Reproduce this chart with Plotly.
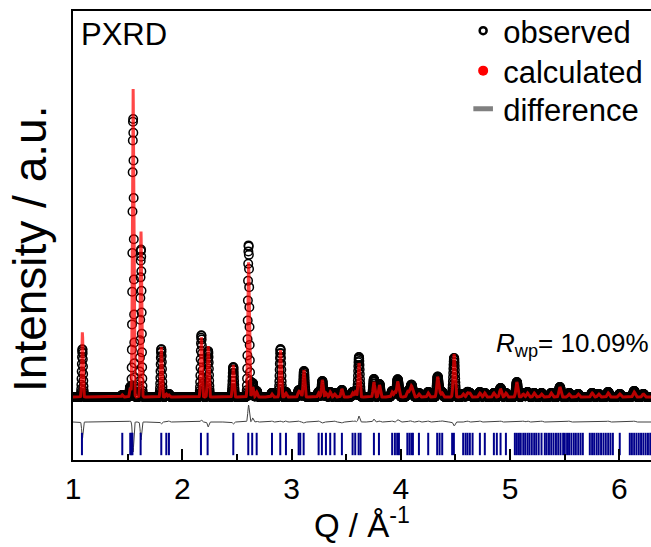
import numpy as np
import plotly.graph_objects as go

# Bragg peaks of the refined pattern: position (Q, 1/Å), observed and calculated heights (a.u.)
peak_q = [1.086, 1.451, 1.524, 1.550, 1.622, 1.808, 1.854, 1.878, 2.175, 2.237,
          2.467, 2.607, 2.645, 2.681, 2.821, 2.899, 2.949, 3.065, 3.080, 3.114,
          3.248, 3.282, 3.315, 3.354, 3.394, 3.461, 3.559, 3.583, 3.617, 3.754,
          3.805, 3.921, 3.946, 3.970, 3.983, 4.060, 4.079, 4.097, 4.111, 4.166,
          4.251, 4.337, 4.355, 4.379, 4.488, 4.571, 4.611, 4.632, 4.724, 4.769,
          4.852, 4.913, 4.962, 5.062, 5.121, 5.160, 5.221, 5.288, 5.377, 5.456,
          5.540, 5.624, 5.751, 5.811, 5.898, 6.004, 6.136, 6.220]
peak_obs = [48, 2, 10, 279, 148, 48, 3, 3, 62, 46,
            30, 152, 14, 6, 4, 48, 5, 6, 5, 26,
            5, 16, 4, 5, 4, 7, 5, 6, 40, 18,
            13, 6, 5, 16, 6, 5, 6, 11, 4, 4,
            5, 20, 6, 5, 39, 3, 5, 4, 5, 4,
            4, 9, 4, 15, 4, 5, 4, 4, 4, 10,
            4, 3, 4, 3, 5, 3, 6, 3]
peak_calc = [65, 2, 9, 309, 166, 50, 3, 2, 60, 51,
             32, 135, 10, 5, 3, 47, 4, 5, 5, 27,
             4, 17, 4, 5, 3, 8, 4, 5, 34, 15,
             12, 5, 5, 14, 5, 5, 5, 10, 4, 3,
             4, 20, 5, 4, 43, 3, 4, 4, 4, 4,
             4, 8, 4, 15, 3, 4, 4, 3, 4, 10,
             3, 3, 4, 3, 4, 3, 5, 3]

# Allowed reflection positions (Q, 1/Å)
reflections = [1.082, 1.451, 1.524, 1.535, 1.544, 1.619, 1.808, 1.854, 1.878, 2.171,
               2.232, 2.467, 2.604, 2.640, 2.681, 2.821, 2.897, 2.949, 3.065, 3.080,
               3.111, 3.248, 3.278, 3.315, 3.354, 3.394, 3.461, 3.559, 3.583, 3.614,
               3.632, 3.754, 3.800, 3.921, 3.946, 3.967, 3.983, 4.060, 4.079, 4.097,
               4.111, 4.166, 4.251, 4.333, 4.355, 4.379, 4.470, 4.486, 4.571, 4.593,
               4.611, 4.632, 4.657, 4.724, 4.769, 4.852, 4.879, 4.913, 4.962, 5.044,
               5.062, 5.081, 5.098, 5.121, 5.139, 5.160, 5.178, 5.199, 5.221, 5.240,
               5.262, 5.288, 5.318, 5.335, 5.356, 5.377, 5.398, 5.420, 5.441, 5.462,
               5.486, 5.501, 5.522, 5.540, 5.561, 5.583, 5.602, 5.624, 5.645, 5.666,
               5.730, 5.751, 5.770, 5.792, 5.811, 5.833, 5.855, 5.876, 5.898, 5.919,
               5.941, 6.004, 6.096, 6.115, 6.136, 6.157, 6.178, 6.199, 6.220, 6.241,
               6.262, 6.283]

R_WP = 10.09        # weighted-profile R factor, %
DIFF_OFFSET = -25   # vertical offset of the difference curve
TICK_LEVEL = -47    # vertical level of the reflection markers

# Measurement grid and Gaussian peak profiles
q = np.arange(1.0, 6.3, 0.0015)


def pattern(heights):
    y = np.zeros_like(q)
    for qk, hk in zip(peak_q, heights):
        w = 0.005 + 0.0007 * qk
        y += hk * np.exp(-0.5 * ((q - qk) / w) ** 2)
    return y


y_obs = pattern(peak_obs)
y_calc = pattern(peak_calc)
y_diff = y_obs - y_calc + DIFF_OFFSET

FONT = "Arial, Liberation Sans, sans-serif"

fig = go.Figure()

fig.add_trace(go.Scatter(
    x=q, y=y_obs, mode="markers", name="observed", showlegend=False,
    marker=dict(symbol="circle-open", size=8.5, color="black",
                line=dict(width=1.5, color="black")),
))
fig.add_trace(go.Scatter(
    x=q, y=y_calc, mode="lines", name="calculated", showlegend=False,
    line=dict(color="rgba(255,0,0,0.72)", width=3),
))
fig.add_trace(go.Scatter(
    x=q, y=y_diff, mode="lines", name="difference", showlegend=False,
    line=dict(color="#404040", width=1),
))
fig.add_trace(go.Scatter(
    x=reflections, y=[TICK_LEVEL] * len(reflections), mode="markers",
    showlegend=False, hoverinfo="x",
    marker=dict(symbol="line-ns", size=16, color="#00008b",
                line=dict(width=2, color="#00008b")),
))

# Legend entries, one legend box per entry
fig.add_trace(go.Scatter(
    x=[None], y=[None], mode="markers", name="observed", legend="legend",
    marker=dict(symbol="circle-open", size=7, color="black",
                line=dict(width=2.5, color="black")),
))
fig.add_trace(go.Scatter(
    x=[None], y=[None], mode="markers", name="calculated", legend="legend2",
    marker=dict(symbol="circle", size=10, color="#ff0000"),
))
fig.add_trace(go.Scatter(
    x=[None], y=[None], mode="markers", name="difference", legend="legend3",
    marker=dict(symbol="line-ew", size=14, color="#808080",
                line=dict(width=5, color="#808080")),
))

legend_style = dict(x=0.675, xanchor="left", yanchor="top",
                    font=dict(size=31, family=FONT), bgcolor="rgba(0,0,0,0)",
                    itemwidth=30)

fig.update_layout(
    width=651, height=547,
    margin=dict(l=73, r=0, t=11, b=87),
    paper_bgcolor="white", plot_bgcolor="white",
    font=dict(family=FONT, color="black"),
    legend=dict(y=1.0156, **legend_style),
    legend2=dict(y=0.9265, **legend_style),
    legend3=dict(y=0.8419, **legend_style),
    xaxis=dict(
        range=[1, 6.29], tickvals=[1, 2, 3, 4, 5, 6],
        ticks="inside", ticklen=11, tickwidth=1.5, tickcolor="black",
        minor=dict(tick0=1, dtick=0.5, ticks="inside", ticklen=6,
                   tickwidth=1.5, tickcolor="black"),
        showline=True, linewidth=1.5, linecolor="black", mirror=True,
        showgrid=False, zeroline=False,
        tickfont=dict(size=30, family=FONT), ticklabelstandoff=1,
    ),
    yaxis=dict(
        range=[-63, 386], showticklabels=False, ticks="",
        showline=True, linewidth=1.5, linecolor="black",
        showgrid=False, zeroline=False,
    ),
    annotations=[
        dict(text="PXRD", x=0.011, y=0.947, xref="paper", yref="paper",
             xanchor="left", yanchor="middle", showarrow=False,
             font=dict(size=31, family=FONT)),
        dict(text=f"<i>R</i><sub>wp</sub>= {R_WP:.2f}%", x=1.0, y=0.258,
             xref="paper", yref="paper", xanchor="right", yanchor="middle",
             showarrow=False, font=dict(size=26, family=FONT)),
        dict(text="Q / Å<sup>-1</sup>", x=0.5, y=-0.1915, xref="paper", yref="paper",
             xanchor="center", yanchor="bottom", showarrow=False,
             font=dict(size=33, family=FONT)),
        dict(text="Intensity / a.u.", x=-0.0744, y=0.47, xref="paper", yref="paper",
             xanchor="center", yanchor="middle", textangle=-90, showarrow=False,
             font=dict(size=46, family=FONT)),
    ],
)

fig.write_html("out.html")
